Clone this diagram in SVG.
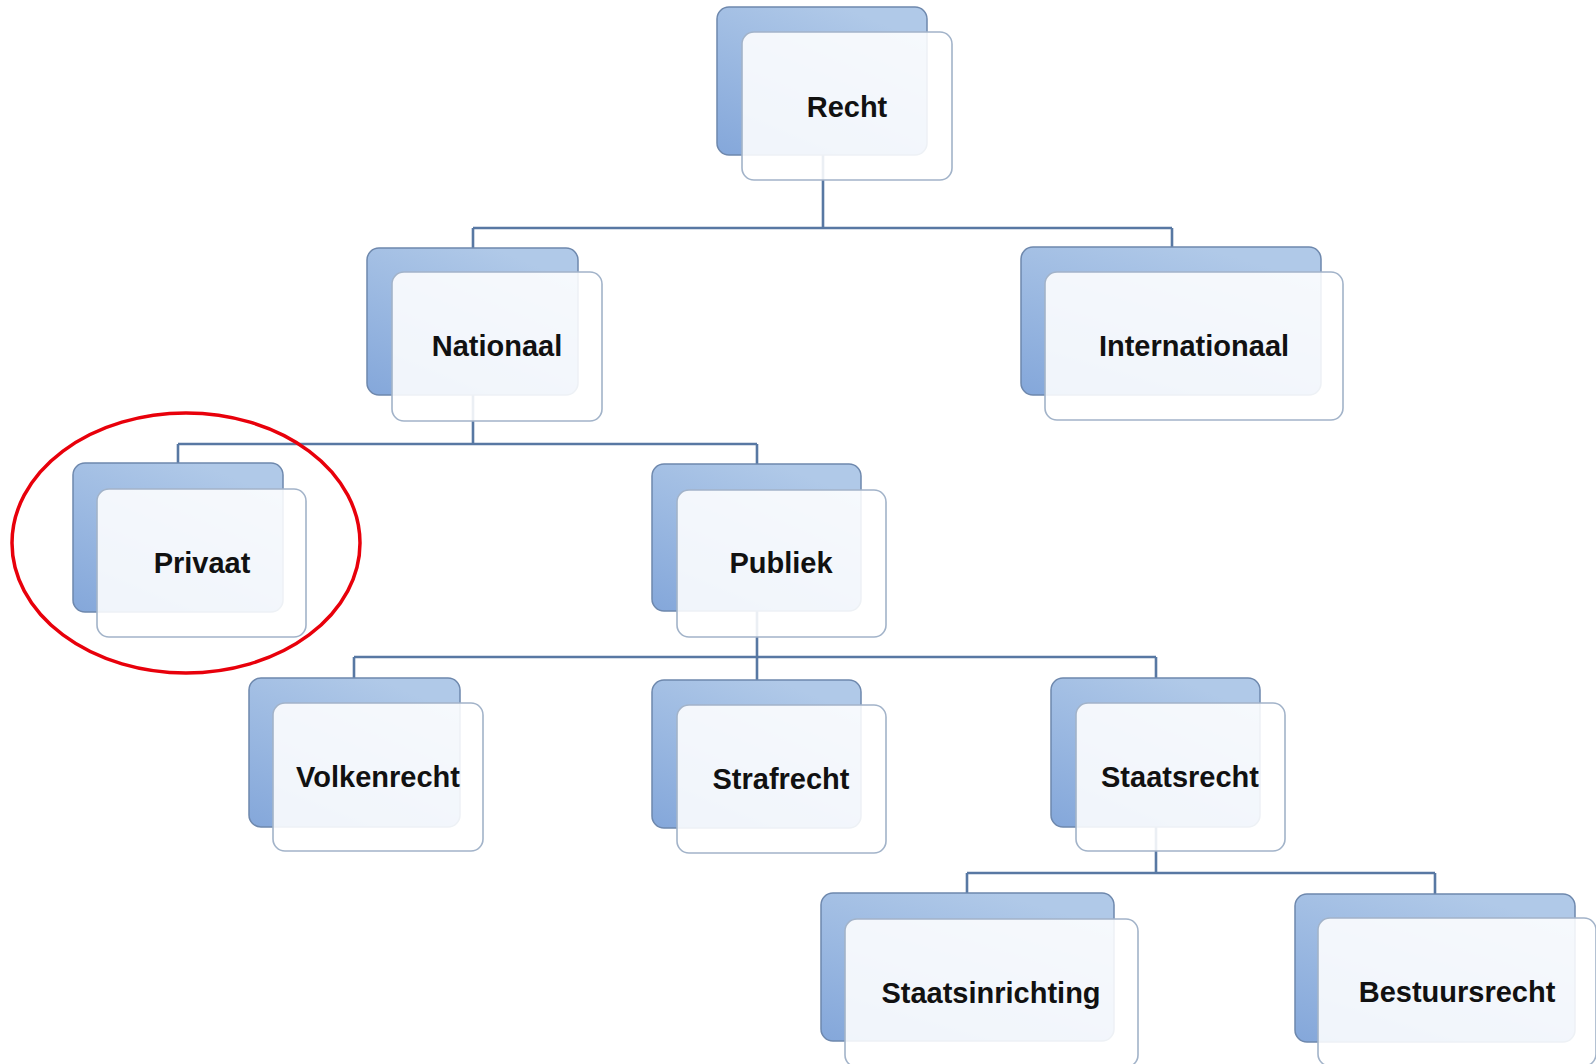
<svg xmlns="http://www.w3.org/2000/svg" width="1596" height="1064" viewBox="0 0 1596 1064">
<defs>
<linearGradient id="bg" x1="0" y1="1" x2="0.6" y2="0">
<stop offset="0" stop-color="#84a7da"/>
<stop offset="1" stop-color="#b0c9e8"/>
</linearGradient>
</defs>
<style>
.back{fill:url(#bg);stroke:#6e88ad;stroke-width:1.5}
.front{fill:#ffffff;fill-opacity:0.88;stroke:#a2b3c9;stroke-width:1.6}
.lbl{font-family:"Liberation Sans",Arial,sans-serif;font-weight:bold;font-size:29px;fill:#111;text-anchor:middle}
.conn{fill:none;stroke:#5878a3;stroke-width:2.6}
</style>
<rect width="1596" height="1064" fill="#ffffff"/>
<g id="connectors">
<path class="conn" d="M823,155 V228 M473,228 H1172 M473,228 V248 M1172,228 V247"/>
<path class="conn" d="M473,395 V444 M178,444 H757 M178,444 V463 M757,444 V464"/>
<path class="conn" d="M757,611 V657 M354,657 H1156 M354,657 V678 M757,657 V680 M1156,657 V678"/>
<path class="conn" d="M1156,827 V873 M967,873 H1435 M967,873 V893 M1435,873 V894"/>
</g>
<g id="recht">
<rect class="back" x="717" y="7" width="210" height="148" rx="12"/>
<rect class="front" x="742" y="32" width="210" height="148" rx="12"/>
<text class="lbl" x="847" y="117">Recht</text>
</g>
<g id="nationaal">
<rect class="back" x="367" y="248" width="211" height="147" rx="12"/>
<rect class="front" x="392" y="272" width="210" height="149" rx="12"/>
<text class="lbl" x="497" y="356">Nationaal</text>
</g>
<g id="internationaal">
<rect class="back" x="1021" y="247" width="300" height="148" rx="12"/>
<rect class="front" x="1045" y="272" width="298" height="148" rx="12"/>
<text class="lbl" x="1194" y="356">Internationaal</text>
</g>
<g id="privaat">
<rect class="back" x="73" y="463" width="210" height="149" rx="12"/>
<rect class="front" x="97" y="489" width="209" height="148" rx="12"/>
<text class="lbl" x="202" y="573">Privaat</text>
</g>
<g id="publiek">
<rect class="back" x="652" y="464" width="209" height="147" rx="12"/>
<rect class="front" x="677" y="490" width="209" height="147" rx="12"/>
<text class="lbl" x="781" y="573">Publiek</text>
</g>
<g id="volkenrecht">
<rect class="back" x="249" y="678" width="211" height="149" rx="12"/>
<rect class="front" x="273" y="703" width="210" height="148" rx="12"/>
<text class="lbl" x="378" y="787">Volkenrecht</text>
</g>
<g id="strafrecht">
<rect class="back" x="652" y="680" width="209" height="148" rx="12"/>
<rect class="front" x="677" y="705" width="209" height="148" rx="12"/>
<text class="lbl" x="781" y="789">Strafrecht</text>
</g>
<g id="staatsrecht">
<rect class="back" x="1051" y="678" width="209" height="149" rx="12"/>
<rect class="front" x="1076" y="703" width="209" height="148" rx="12"/>
<text class="lbl" x="1180" y="787">Staatsrecht</text>
</g>
<g id="staatsinrichting">
<rect class="back" x="821" y="893" width="293" height="148" rx="12"/>
<rect class="front" x="845" y="919" width="293" height="148" rx="12"/>
<text class="lbl" x="991" y="1003">Staatsinrichting</text>
</g>
<g id="bestuursrecht">
<rect class="back" x="1295" y="894" width="280" height="148" rx="12"/>
<rect class="front" x="1318" y="918" width="278" height="148" rx="12"/>
<text class="lbl" x="1457" y="1002">Bestuursrecht</text>
</g>
<ellipse id="highlight" cx="186" cy="543" rx="174" ry="130" fill="none" stroke="#e8000b" stroke-width="3.5"/>
</svg>
